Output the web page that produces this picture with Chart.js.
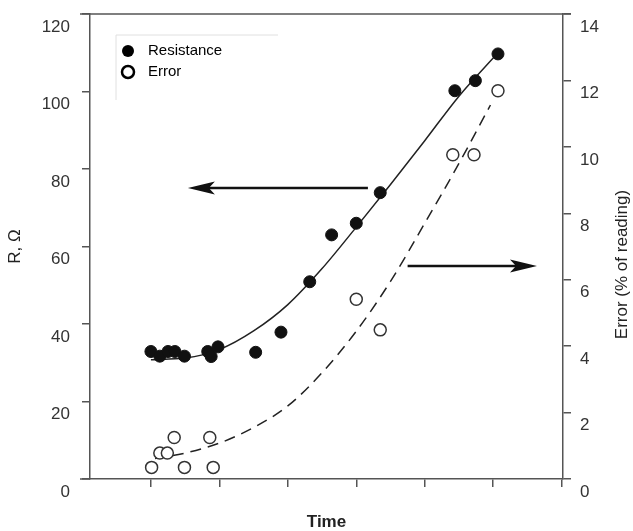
<!DOCTYPE html>
<html>
<head>
<meta charset="utf-8">
<script src="https://cdn.jsdelivr.net/npm/chart.js@4.4.1/dist/chart.umd.min.js"></script>
<style>
  html, body { margin: 0; padding: 0; background: #fff; }
  #wrap { position: relative; width: 633px; height: 531px; }
</style>
</head>
<body>
<div id="wrap"><canvas id="chart" width="633" height="531"></canvas></div>
<script>
const resTime = [1.0, 1.13, 1.25, 1.35, 1.49, 1.83, 1.88, 1.98, 2.53, 2.90, 3.32, 3.64, 4.0, 4.35, 5.44, 5.74, 6.07];
const resistance = [32.9, 31.7, 32.9, 32.9, 31.7, 32.9, 31.6, 34.1, 32.7, 37.9, 50.9, 63.0, 66.0, 73.9, 100.2, 102.8, 109.7];

const errTime = [1.01, 1.13, 1.24, 1.34, 1.49, 1.86, 1.91, 4.0, 4.35, 5.41, 5.72, 6.07];
const errorPct = [0.35, 0.78, 0.78, 1.25, 0.35, 1.25, 0.35, 5.41, 4.49, 9.76, 9.76, 11.69];

// Courbes d'ajustement
const fitResTime = [1.0, 1.5, 2.0, 2.5, 3.0, 3.5, 4.0, 4.5, 5.0, 5.5, 6.07];
const fitRes = [30.8, 31.2, 33.4, 38.2, 45.0, 54.3, 65.0, 76.0, 87.3, 98.8, 110.0];
const fitErrTime = [1.06, 1.5, 2.0, 2.5, 3.0, 3.5, 4.0, 4.5, 5.0, 5.5, 5.96];
const fitErr = [0.62, 0.78, 1.08, 1.55, 2.2, 3.2, 4.45, 5.95, 7.7, 9.5, 11.26];

// Graduations
const timeTicks = [1, 2, 3, 4, 5, 6, 7];
const resTicks = [0, 20, 40, 60, 80, 100, 120];
const errTicks = [0, 2, 4, 6, 8, 10, 12, 14];

const AXIS = '#555';
const TEXT = '#333';
const FONT = "'Liberation Sans', Arial, sans-serif";

const toPoints = (xs, ys) => xs.map((x, i) => ({ x: x, y: ys[i] }));

/**
 * Cadre, flèches, légende et titre de l'axe droit
 */
const extrasPlugin = {
    id: 'extras',
    afterDraw(chart) {
        const { ctx, chartArea: a, scales } = chart;
        ctx.save();

        // cadre du haut + prolongement de l'axe du bas
        ctx.strokeStyle = AXIS;
        ctx.lineWidth = 1.5;
        ctx.beginPath();
        ctx.moveTo(a.left - 10, a.top);
        ctx.lineTo(a.right + 8, a.top);
        ctx.moveTo(a.left - 10, a.bottom);
        ctx.lineTo(a.left, a.bottom);
        ctx.stroke();

        // flèches (en unités de données)
        const arrows = [
            { axis: 'y', value: 75.1, from: 4.17, to: 1.54 },
            { axis: 'y2', value: 6.41, from: 4.75, to: 6.64 },
        ];
        ctx.strokeStyle = '#111';
        ctx.fillStyle = '#111';
        arrows.forEach(ar => {
            const y = scales[ar.axis].getPixelForValue(ar.value);
            const x0 = scales.x.getPixelForValue(ar.from);
            const x1 = scales.x.getPixelForValue(ar.to);
            const dir = x1 > x0 ? 1 : -1;
            ctx.lineWidth = 2.5;
            ctx.beginPath();
            ctx.moveTo(x0, y);
            ctx.lineTo(x1 - dir * 10, y);
            ctx.stroke();
            ctx.beginPath();
            ctx.moveTo(x1, y);
            ctx.lineTo(x1 - dir * 27, y - 6.5);
            ctx.lineTo(x1 - dir * 21, y);
            ctx.lineTo(x1 - dir * 27, y + 6.5);
            ctx.closePath();
            ctx.fill();
        });

        // légende
        const lx = a.left + 26, ly = a.top + 21;
        ctx.strokeStyle = '#e0e0e0';
        ctx.lineWidth = 1;
        ctx.beginPath();
        ctx.moveTo(lx + 162, ly);
        ctx.lineTo(lx, ly);
        ctx.lineTo(lx, ly + 65);
        ctx.stroke();

        const items = chart.data.datasets.filter(ds => ds.inLegend);
        ctx.font = '15px ' + FONT;
        ctx.textBaseline = 'middle';
        ctx.textAlign = 'left';
        items.forEach((ds, i) => {
            const cy = ly + 16 + i * 21;
            ctx.beginPath();
            ctx.arc(lx + 12, cy, 6, 0, Math.PI * 2);
            if (ds.backgroundColor === '#fff') {
                ctx.fillStyle = '#fff';
                ctx.fill();
                ctx.lineWidth = 2.5;
                ctx.strokeStyle = '#000';
                ctx.stroke();
            } else {
                ctx.fillStyle = '#000';
                ctx.fill();
            }
            ctx.fillStyle = '#000';
            ctx.fillText(ds.label, lx + 32, cy);
        });

        // titre de l'axe droit, lu de bas en haut
        ctx.translate(622, (a.top + a.bottom) / 2 + 18);
        ctx.rotate(-Math.PI / 2);
        ctx.font = '17px ' + FONT;
        ctx.fillStyle = '#222';
        ctx.textAlign = 'center';
        ctx.fillText('Error (% of reading)', 0, 0);

        ctx.restore();
    }
};

const gridOpts = { drawOnChartArea: false, drawTicks: true, tickLength: 8, color: AXIS, lineWidth: 1.5 };
const borderOpts = { display: true, color: AXIS, width: 1.5 };

// taille fixe des axes, sans marge automatique pour les étiquettes
const fixSize = (key, size) => s => {
    s[key] = size;
    s.paddingTop = 0;
    s.paddingBottom = 0;
    s.paddingLeft = 0;
    s.paddingRight = 0;
};

new Chart(document.getElementById('chart').getContext('2d'), {
    type: 'scatter',
    data: {
        datasets: [
            {
                label: 'Resistance', inLegend: true, yAxisID: 'y', order: 0,
                data: toPoints(resTime, resistance),
                pointRadius: 6, backgroundColor: '#111', borderColor: '#111', borderWidth: 1,
            },
            {
                label: 'Error', inLegend: true, yAxisID: 'y2', order: 0,
                data: toPoints(errTime, errorPct),
                pointRadius: 6, backgroundColor: '#fff', borderColor: '#333', borderWidth: 1.5,
            },
            {
                label: 'fit R', yAxisID: 'y', order: 1, showLine: true,
                data: toPoints(fitResTime, fitRes),
                pointRadius: 0, borderColor: '#222', borderWidth: 1.5,
                cubicInterpolationMode: 'monotone',
            },
            {
                label: 'fit E', yAxisID: 'y2', order: 1, showLine: true,
                data: toPoints(fitErrTime, fitErr),
                pointRadius: 0, borderColor: '#222', borderWidth: 1.5, borderDash: [11, 7],
                cubicInterpolationMode: 'monotone',
            },
        ],
    },
    options: {
        responsive: false,
        animation: false,
        layout: { padding: { top: 14, right: 0, bottom: 0, left: 0 } },
        plugins: { legend: { display: false }, tooltip: { enabled: false } },
        scales: {
            x: {
                type: 'linear', min: 0.11, max: 7.02,
                afterBuildTicks: s => { s.ticks = timeTicks.map(v => ({ value: v })); },
                afterFit: fixSize('height', 52),
                ticks: { callback: () => '', padding: 0 },
                grid: gridOpts, border: borderOpts,
                title: {
                    display: true, text: 'Time', color: '#222',
                    font: { family: FONT, size: 17, weight: 'bold', lineHeight: 1 },
                    padding: { top: 0, bottom: 0 },
                },
            },
            y: {
                position: 'left', min: 0, max: 120,
                afterBuildTicks: s => { s.ticks = resTicks.map(v => ({ value: v })); },
                afterFit: fixSize('width', 90),
                ticks: { color: TEXT, font: { family: FONT, size: 17 }, padding: 12, labelOffset: 13 },
                grid: gridOpts, border: borderOpts,
                title: {
                    display: true, text: 'R, Ω', color: '#222',
                    font: { family: FONT, size: 17 },
                    padding: { top: 5, bottom: 0 },
                },
            },
            y2: {
                position: 'right', min: 0, max: 14,
                afterBuildTicks: s => { s.ticks = errTicks.map(v => ({ value: v })); },
                afterFit: fixSize('width', 70),
                ticks: { color: TEXT, font: { family: FONT, size: 17 }, padding: 9, labelOffset: 13 },
                grid: gridOpts, border: borderOpts,
            },
        },
    },
    plugins: [extrasPlugin],
});
</script>
</body>
</html>
